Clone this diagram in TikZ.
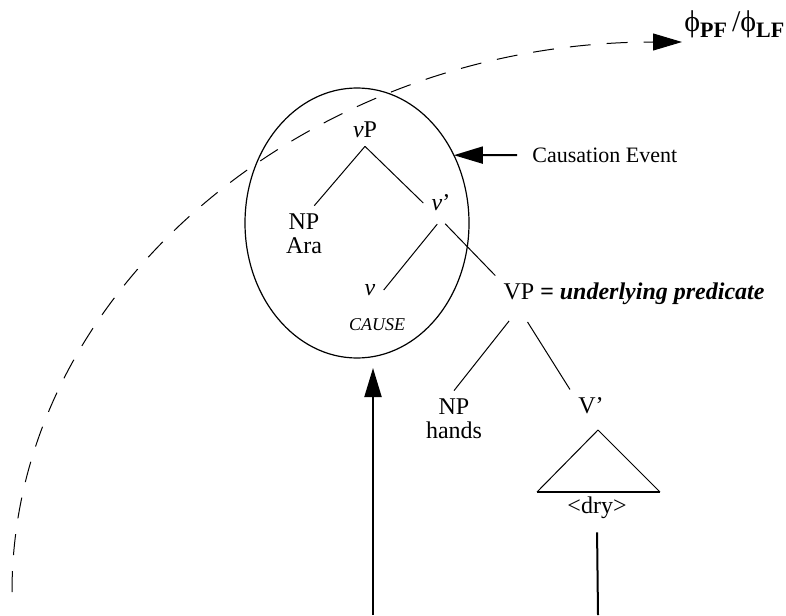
\documentclass[tikz,border=0pt]{standalone}
\usepackage{fontspec}
\setmainfont{Liberation Serif}
\usetikzlibrary{arrows.meta,shapes.geometric}
\newcommand{\sublabel}[1]{\raisebox{-3pt}{\fontsize{11}{11}\selectfont\bfseries #1}}
\begin{document}
\begin{tikzpicture}[x=0.5pt,y=-0.5pt,
  every node/.style={font=\fontsize{12}{12}\selectfont},
  cat/.style={inner sep=4pt,align=center},
  branch/.style={line width=0.5pt},
  stem/.style={line width=1pt},
  bigarrow/.style={line width=1pt,-{Triangle[length=14.5pt,width=8.5pt]}},
  spellout/.style={line width=0.5pt,dash pattern=on 10.5pt off 8pt,-{Triangle[length=14.5pt,width=8.5pt]}},
  small/.style={font=\fontsize{9}{9}\selectfont\itshape}]
\useasboundingbox (0,0) rectangle (786,615);
\node[ellipse,draw,line width=0.6pt,minimum width=112pt,minimum height=135pt,inner sep=0pt,outer sep=0pt] (event) at (357,223) {};
\coordinate (arcfoot) at (12,592);
\coordinate (arcend) at (682,42);
\draw[spellout] (arcfoot) .. controls (12,288) and (312,42) .. (arcend);
\node[anchor=base west,inner sep=0pt,font=\fontsize{15}{15}\selectfont] (phi) at (684,32) {ϕ\sublabel{PF}\,/ϕ\sublabel{LF}};
\node[anchor=west,inner sep=0pt,font=\fontsize{11}{11}\selectfont] (causation) at (532,155) {Causation Event};
\coordinate (causetail) at (517,155);
\draw[bigarrow] (causetail) -- (event.35);
\node[cat] (vP) at (365,130) {\textit{v}P};
\node[cat] (NPa) at (304,234) {NP\\Ara};
\node[cat] (vbar) at (441,203) {\textit{v}’};
\node[cat] (vlow) at (370,290) {\textit{v}};
\node[small] (cause) at (377,325) {CAUSE};
\node[cat] (VP) at (519,292) {VP};
\node[anchor=base west,inner sep=0pt,xshift=-1.5pt] (pred) at (VP.base east) {\textbf{\textit{= underlying predicate}}};
\node[cat] (NPh) at (454,419) {NP\\hands};
\node[cat] (Vbar2) at (591,406) {V’};
\coordinate (tri) at (598,430);
\coordinate (trileft) at (537,492);
\coordinate (triright) at (660,492);
\node[cat] (dry) at (597,508) {\textless dry\textgreater};
\draw[branch] (vP.south) -- (NPa.70);
\draw[branch] (vP.south) -- (vbar.west);
\draw[branch,shorten <=3pt] (vbar.south) -- (vlow.east);
\draw[branch,shorten <=3pt] (vbar.south) -- (VP.north west);
\draw[branch,shorten <=8pt] (VP.south) -- (NPh.north);
\draw[branch,shorten <=8pt] (VP.south) -- (Vbar2.north west);
\draw[branch] (tri) -- (trileft);
\draw[branch] (tri) -- (triright);
\draw[line width=1pt] (trileft) -- (triright);
\coordinate (dryfoot) at (598,615);
\draw[stem,shorten <=2.5pt] (dry.south) -- (dryfoot);
\coordinate (upfoot) at (373,615);
\coordinate (uptip) at (373,368);
\draw[bigarrow] (upfoot) -- (uptip);
\end{tikzpicture}
\end{document}
